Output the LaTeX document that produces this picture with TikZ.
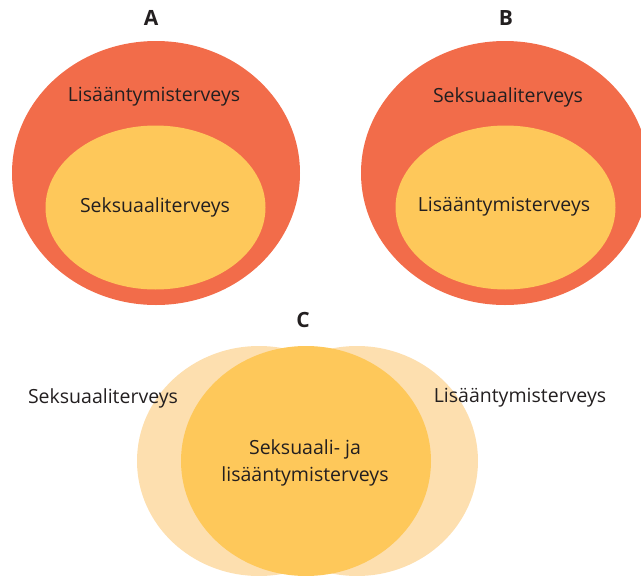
\documentclass[tikz,border=0pt]{standalone}
\usepackage{fontspec}
\setmainfont{Open Sans}
\definecolor{outerc}{RGB}{242,108,74}
\definecolor{innerc}{RGB}{254,200,90}
\definecolor{lightc}{RGB}{253,223,175}
\definecolor{textc}{RGB}{35,31,32}
\begin{document}
\begin{tikzpicture}[x=1pt,y=-1pt,
  lbl/.style={font=\fontsize{19.5}{27}\selectfont, text=textc, inner sep=0pt},
  head/.style={font=\bfseries\fontsize{21}{24}\selectfont, text=textc, inner sep=0pt}]
\useasboundingbox (0,0) rectangle (641,576);
\clip (0,0) rectangle (641,576);
% A
\fill[outerc] (156,173) ellipse [x radius=144, y radius=132];
\fill[innerc] (155.5,207.5) ellipse [x radius=110, y radius=82];
% B
\fill[outerc] (505,173) ellipse [x radius=144, y radius=132];
\fill[innerc] (505.5,207.5) ellipse [x radius=110, y radius=82];
% C
\fill[lightc] (259,461) ellipse [x radius=122, y radius=115];
\fill[lightc] (357,461) ellipse [x radius=121, y radius=115];
\fill[innerc] (306,461) ellipse [x radius=125, y radius=115];
\node[head] (hA) at (151,18) {A};
\node[head] (hB) at (506,18) {B};
\node[head] (hC) at (303,320) {C};
\node[lbl] (a1) at (154,97) {Lisääntymisterveys};
\node[lbl] (a2) at (155,207) {Seksuaaliterveys};
\node[lbl] (b1) at (508,97) {Seksuaaliterveys};
\node[lbl] (b2) at (504,207) {Lisääntymisterveys};
\node[lbl] (c1) at (103,398) {Seksuaaliterveys};
\node[lbl] (c2) at (520,398) {Lisääntymisterveys};
\node[lbl, align=center] (c3) at (305,463) {Seksuaali- ja\\lisääntymisterveys};
\end{tikzpicture}
\end{document}
